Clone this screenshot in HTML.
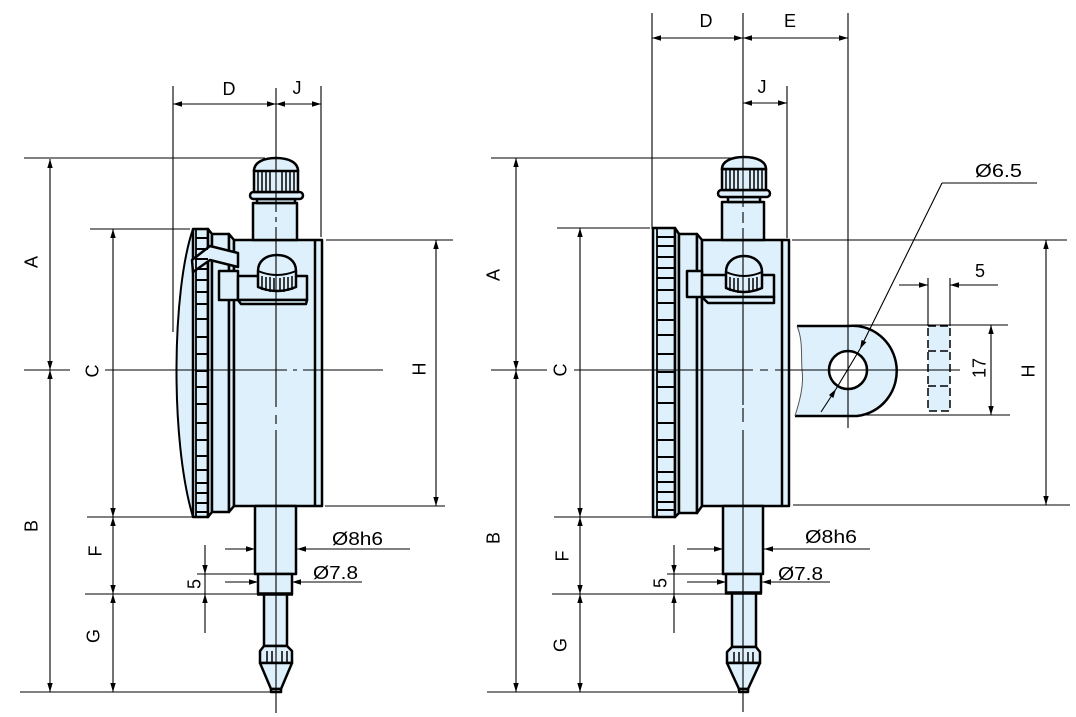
<!DOCTYPE html>
<html><head><meta charset="utf-8"><style>
html,body{margin:0;padding:0;background:#fff;}
svg{display:block;}
text{font-family:"Liberation Sans",Arial,sans-serif;font-size:18px;fill:#000;}
</style></head><body>
<svg width="1076" height="717" viewBox="0 0 1076 717" xmlns="http://www.w3.org/2000/svg">
<defs>
<marker id="a" viewBox="0 0 10 6" refX="10" refY="3" markerWidth="9" markerHeight="6" markerUnits="userSpaceOnUse" orient="auto-start-reverse"><path d="M0,0L10,3L0,6z" fill="#000"/></marker>
</defs>
<rect width="1076" height="717" fill="#fff"/>

<!-- ================= LEFT INSTRUMENT ================= -->
<g fill="#def0fb" stroke="#000" stroke-width="2.5" stroke-linejoin="round">
  <path d="M193,229 C172,290 170,440 193,517 Z" stroke-width="2"/>
  <rect x="193" y="229" width="15" height="288"/>
  <path d="M208,229 L212,234 L212,512 L208,517 Z"/>
  <rect x="212" y="234" width="17" height="278"/>
  <path d="M229,234 L234,240 L234,506 L229,512 Z"/>
  <rect x="234" y="240" width="88" height="266"/>
  <!-- cap -->
  <rect x="253" y="203" width="44" height="37"/>
  <rect x="257" y="199" width="38" height="4"/>
  <rect x="250" y="192" width="53" height="7" rx="3.5"/>
  <rect x="254" y="170" width="44" height="22"/>
  <path d="M254,171 C254,162 264,158 276,158 C288,158 298,162 298,171 Z"/>
  <!-- lever -->
  <polygon points="192,260 210,246 238,253 238,267 210,260 193,272"/>
  <!-- bracket -->
  <rect x="219" y="271" width="19" height="29"/>
  <rect x="238" y="276" width="69" height="24"/>
  <polygon points="238,300 241,304 306,304 307,300"/>
  <!-- knob -->
  <path d="M258,271 C258,261 266,255 277,255 C288,255 296,261 296,271 L296,287 Q277,295 258,287 Z"/>
  <!-- stem -->
  <rect x="255" y="506" width="41" height="68"/>
  <rect x="258" y="574" width="34" height="20"/>
  <rect x="264" y="594" width="23" height="52"/>
  <polygon points="264,646 260,651 260,663 292,663 292,651 287,646"/>
  <polygon points="260,663 271,689 281,689 292,663"/>
  <rect x="271" y="689" width="10" height="3"/>
</g>
<g stroke="#000" fill="none">
  <line x1="196" y1="229" x2="196" y2="517" stroke-width="1.8"/>
  <line x1="315" y1="240" x2="315" y2="506" stroke-width="2.5"/>
  <path stroke-width="2" d="M196,238H208M196,249H208M196,259H208M196,269H208M196,280H208M196,292H208M196,304H208M196,319H208M196,337H208M196,354H208M196,371H208M196,387H208M196,404H208M196,423H208M196,440H208M196,456H208M196,470H208M196,483H208M196,493H208M196,503H208M196,512H208"/>
  <path stroke-width="1.5" d="M258,171V192M262,171V192M266,171V192M270,171V192M282,171V192M286,171V192M290,171V192M294,171V192"/>
  <path stroke-width="2" d="M258,271 Q277,279 296,271"/>
  <path stroke-width="1.5" d="M262,276V290M266,277V291M270,277V292M274,278V292M280,278V292M284,277V292M288,277V291M292,276V290"/>
  <path stroke-width="1.5" d="M267,651V663M272,651V663M282,651V663M287,651V663"/>
  <line x1="257" y1="594" x2="293" y2="594" stroke-width="3.5"/>
</g>

<!-- left center lines -->
<g stroke="#000" stroke-width="1.1" fill="none">
  <path d="M276,88V212M276,217V222M276,227V407M276,415V424M276,430V713"/>
  <path d="M24,370H70M105,370H287M293,370H297M303,370H383"/>
  <!-- extension lines -->
  <path d="M173,86V332M321,86V237M24,158H265M90,229H190M87,517H193M85,594H260M20,692H270M197,574H255M326,240H453M325,506H445"/>
  <!-- dims -->
  <line x1="173" y1="104" x2="276" y2="104" marker-start="url(#a)" marker-end="url(#a)"/>
  <line x1="276" y1="104" x2="321" y2="104" marker-start="url(#a)" marker-end="url(#a)"/>
  <line x1="50" y1="159" x2="50" y2="370" marker-start="url(#a)" marker-end="url(#a)"/>
  <line x1="50" y1="370" x2="50" y2="692" marker-start="url(#a)" marker-end="url(#a)"/>
  <line x1="113" y1="229" x2="113" y2="517" marker-start="url(#a)" marker-end="url(#a)"/>
  <line x1="113" y1="517" x2="113" y2="594" marker-start="url(#a)" marker-end="url(#a)"/>
  <line x1="113" y1="594" x2="113" y2="692" marker-start="url(#a)" marker-end="url(#a)"/>
  <line x1="436" y1="240" x2="436" y2="506" marker-start="url(#a)" marker-end="url(#a)"/>
  <line x1="205" y1="545" x2="205" y2="574" marker-end="url(#a)"/>
  <line x1="205" y1="574" x2="205" y2="594"/>
  <line x1="205" y1="633" x2="205" y2="594" marker-end="url(#a)"/>
  <line x1="225" y1="549" x2="255" y2="549" marker-end="url(#a)"/>
  <line x1="410" y1="549" x2="297" y2="549" marker-end="url(#a)"/>
  <line x1="225" y1="582" x2="258" y2="582" marker-end="url(#a)"/>
  <line x1="362" y1="582" x2="292" y2="582" marker-end="url(#a)"/>
</g>
<g>
  <text x="229" y="95" text-anchor="middle">D</text>
  <text x="297" y="94" text-anchor="middle">J</text>
  <text transform="translate(31,262) rotate(-90)" text-anchor="middle" dy=".35em">A</text>
  <text transform="translate(92,371) rotate(-90)" text-anchor="middle" dy=".35em">C</text>
  <text transform="translate(31,526) rotate(-90)" text-anchor="middle" dy=".35em">B</text>
  <text transform="translate(95,551) rotate(-90)" text-anchor="middle" dy=".35em">F</text>
  <text transform="translate(93,636) rotate(-90)" text-anchor="middle" dy=".35em">G</text>
  <text transform="translate(194,584) rotate(-90)" text-anchor="middle" dy=".35em">5</text>
  <text transform="translate(419,369) rotate(-90)" text-anchor="middle" dy=".35em">H</text>
  <text x="332" y="545" textLength="51" lengthAdjust="spacingAndGlyphs">Ø8h6</text>
  <text x="313" y="579" textLength="45" lengthAdjust="spacingAndGlyphs">Ø7.8</text>
</g>

<!-- ================= RIGHT INSTRUMENT ================= -->
<g fill="#def0fb" stroke="#000" stroke-width="2.5" stroke-linejoin="round">
  <rect x="653" y="228" width="22" height="289"/>
  <path d="M675,228 L679,234 L679,513 L675,517 Z"/>
  <rect x="679" y="234" width="18" height="279"/>
  <path d="M697,234 L702,240 L702,506 L697,513 Z"/>
  <rect x="702" y="240" width="87" height="266"/>
  <!-- cap -->
  <rect x="722" y="202" width="42" height="38"/>
  <rect x="728" y="197" width="32" height="5"/>
  <rect x="718" y="190" width="52" height="7" rx="3.5"/>
  <rect x="722" y="169" width="44" height="21"/>
  <path d="M722,169 C722,161 732,157 744,157 C756,157 766,161 766,169 Z"/>
  <!-- bracket -->
  <rect x="687" y="271" width="15" height="26"/>
  <rect x="702" y="275" width="72" height="22"/>
  <polygon points="702,297 708,303 774,303 774,297"/>
  <!-- knob -->
  <path d="M726,272 C726,262 734,256 744,256 C754,256 762,262 762,272 L762,288 Q744,296 726,288 Z"/>
  <!-- stem -->
  <rect x="723" y="506" width="40" height="68"/>
  <rect x="726" y="574" width="35" height="19"/>
  <rect x="732" y="593" width="24" height="54"/>
  <polygon points="732,647 727,652 727,663 760,663 760,652 756,647"/>
  <polygon points="727,663 739,689 748,689 760,663"/>
  <rect x="739" y="689" width="9" height="3"/>
</g>
<!-- lug -->
<path d="M797,326 L848,326 A44,45 0 0 1 857,416 L795,416 C800,400 804,385 802,370 C801,355 803,340 797,326 Z" fill="#def0fb"/>
<path d="M797,326 L848,326 A44,45 0 0 1 857,416 L795,416" fill="none" stroke="#000" stroke-width="2.5"/>
<path d="M795,416 C800,400 804,385 802,370 C801,355 803,340 797,326" fill="none" stroke="#555" stroke-width="1"/>
<circle cx="848" cy="370" r="19" fill="#fff" stroke="#000" stroke-width="2.5"/>
<!-- lug side view -->
<rect x="928" y="326" width="22" height="85" fill="#def0fb" stroke="#000" stroke-width="1.5" stroke-dasharray="8,4"/>
<path d="M928,351H950M928,386H950" stroke="#000" stroke-width="1.5" stroke-dasharray="8,4"/>

<g stroke="#000" fill="none">
  <line x1="657" y1="228" x2="657" y2="517" stroke-width="1.8"/>
  <line x1="782" y1="240" x2="782" y2="506" stroke-width="2.5"/>
  <path stroke-width="2" d="M657,237H675M657,246H675M657,257H675M657,268H675M657,278H675M657,290H675M657,303H675M657,320H675M657,335H675M657,354H675M657,372H675M657,387H675M657,403H675M657,423H675M657,440H675M657,457H675M657,472H675M657,482H675M657,492H675M657,502H675M657,510H675"/>
  <path stroke-width="1.5" d="M726,169V190M730,169V190M734,169V190M738,169V190M750,169V190M754,169V190M758,169V190M762,169V190"/>
  <path stroke-width="2" d="M726,272 Q744,280 762,272"/>
  <path stroke-width="1.5" d="M730,277V291M734,278V292M738,278V293M749,278V293M753,278V292M757,277V291"/>
  <path stroke-width="1.5" d="M734,652V663M739,652V663M748,652V663M753,652V663"/>
  <line x1="725" y1="593" x2="762" y2="593" stroke-width="3.5"/>
</g>

<g stroke="#000" stroke-width="1.1" fill="none">
  <path d="M743,13V207M743,212V223M743,228V405M743,408V422M743,430V712"/>
  <path d="M491,370H547M574,370H753M760,370H768M775,370H960"/>
  <!-- extension lines -->
  <path d="M652,13V229M848,13V428M787,86V238M491,158H733M557,228H650M554,517H655M552,594H725M487,692H737M667,574H725M792,240H1067M793,505H1070M853,325H1008M866,415H1010M928,278V326M950,278V326M942,183H1037"/>
  <!-- dims -->
  <line x1="652" y1="38" x2="743" y2="38" marker-start="url(#a)" marker-end="url(#a)"/>
  <line x1="743" y1="38" x2="848" y2="38" marker-start="url(#a)" marker-end="url(#a)"/>
  <line x1="743" y1="103" x2="787" y2="103" marker-start="url(#a)" marker-end="url(#a)"/>
  <line x1="516" y1="158" x2="516" y2="370" marker-start="url(#a)" marker-end="url(#a)"/>
  <line x1="516" y1="370" x2="516" y2="692" marker-start="url(#a)" marker-end="url(#a)"/>
  <line x1="580" y1="228" x2="580" y2="517" marker-start="url(#a)" marker-end="url(#a)"/>
  <line x1="580" y1="517" x2="580" y2="594" marker-start="url(#a)" marker-end="url(#a)"/>
  <line x1="580" y1="594" x2="580" y2="692" marker-start="url(#a)" marker-end="url(#a)"/>
  <line x1="1046" y1="240" x2="1046" y2="505" marker-start="url(#a)" marker-end="url(#a)"/>
  <line x1="991" y1="325" x2="991" y2="415" marker-start="url(#a)" marker-end="url(#a)"/>
  <line x1="674" y1="545" x2="674" y2="574" marker-end="url(#a)"/>
  <line x1="674" y1="574" x2="674" y2="594"/>
  <line x1="674" y1="633" x2="674" y2="594" marker-end="url(#a)"/>
  <line x1="687" y1="549" x2="723" y2="549" marker-end="url(#a)"/>
  <line x1="870" y1="549" x2="764" y2="549" marker-end="url(#a)"/>
  <line x1="687" y1="582" x2="726" y2="582" marker-end="url(#a)"/>
  <line x1="830" y1="582" x2="762" y2="582" marker-end="url(#a)"/>
  <line x1="899" y1="285" x2="928" y2="285" marker-end="url(#a)"/>
  <line x1="998" y1="285" x2="950" y2="285" marker-end="url(#a)"/>
  <line x1="942" y1="183" x2="860" y2="349" marker-end="url(#a)"/>
  <line x1="860" y1="349" x2="836" y2="389"/>
  <line x1="821" y1="412" x2="836" y2="389" marker-end="url(#a)"/>
</g>
<g>
  <text x="706" y="27" text-anchor="middle">D</text>
  <text x="790" y="27" text-anchor="middle">E</text>
  <text x="762" y="93" text-anchor="middle">J</text>
  <text transform="translate(493,275) rotate(-90)" text-anchor="middle" dy=".35em">A</text>
  <text transform="translate(560,370) rotate(-90)" text-anchor="middle" dy=".35em">C</text>
  <text transform="translate(493,538) rotate(-90)" text-anchor="middle" dy=".35em">B</text>
  <text transform="translate(562,556) rotate(-90)" text-anchor="middle" dy=".35em">F</text>
  <text transform="translate(560,645) rotate(-90)" text-anchor="middle" dy=".35em">G</text>
  <text transform="translate(660,583) rotate(-90)" text-anchor="middle" dy=".35em">5</text>
  <text transform="translate(979,368) rotate(-90)" text-anchor="middle" dy=".35em">17</text>
  <text transform="translate(1028,371) rotate(-90)" text-anchor="middle" dy=".35em">H</text>
  <text x="980" y="277" text-anchor="middle">5</text>
  <text x="805" y="543" textLength="52" lengthAdjust="spacingAndGlyphs">Ø8h6</text>
  <text x="778" y="580" textLength="45" lengthAdjust="spacingAndGlyphs">Ø7.8</text>
  <text x="975" y="177" textLength="47" lengthAdjust="spacingAndGlyphs">Ø6.5</text>
</g>
</svg>
</body></html>
